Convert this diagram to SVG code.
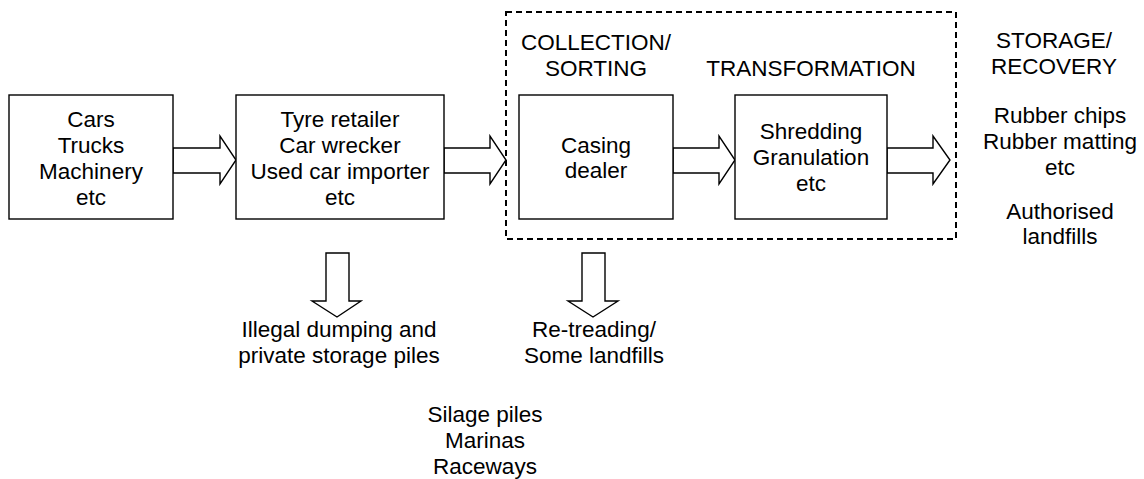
<svg xmlns="http://www.w3.org/2000/svg" width="1144" height="479" viewBox="0 0 1144 479">
<style>
.box{fill:#fff;stroke:#000;stroke-width:1.4}
.arr{fill:#fff;stroke:#000;stroke-width:1.4;stroke-linejoin:miter}
.dash{fill:none;stroke:#000;stroke-width:2;stroke-dasharray:6 4}
text{font-family:"Liberation Sans",Arial,sans-serif;font-size:22.5px;fill:#000;text-anchor:middle}
</style>
<rect width="1144" height="479" fill="#fff"/>
<g id="group-box">
<rect class="dash" x="506" y="12" width="450" height="227"/>
<text x="596" y="50">COLLECTION/</text>
<text x="596" y="76">SORTING</text>
<text x="811" y="76">TRANSFORMATION</text>
</g>
<g id="connectors">
<polygon class="arr" points="173,148 220,148 220,136 236,160 220,184 220,173 173,173"/>
<polygon class="arr" points="444,148 490,148 490,136 506,160 490,184 490,173 444,173"/>
<polygon class="arr" points="673,148 719,148 719,136 735,160 719,184 719,173 673,173"/>
<polygon class="arr" points="887,148 933,148 933,136 950,160 933,184 933,173 887,173"/>
<polygon class="arr" points="326,253 349,253 349,301 361,301 337,317 312,301 326,301"/>
<polygon class="arr" points="582,253 605,253 605,301 618,301 593,317 568,301 582,301"/>
</g>
<g id="sources">
<rect class="box" x="9" y="95" width="164" height="124"/>
<text x="91" y="127">Cars</text>
<text x="91" y="153">Trucks</text>
<text x="91" y="179">Machinery</text>
<text x="91" y="205">etc</text>
</g>
<g id="retailers">
<rect class="box" x="236" y="95" width="208" height="124"/>
<text x="340" y="127">Tyre retailer</text>
<text x="340" y="153">Car wrecker</text>
<text x="340" y="179">Used car importer</text>
<text x="340" y="205">etc</text>
</g>
<g id="casing-dealer">
<rect class="box" x="519" y="95" width="154" height="124"/>
<text x="596" y="153">Casing</text>
<text x="596" y="178">dealer</text>
</g>
<g id="shredding">
<rect class="box" x="735" y="95" width="152" height="124"/>
<text x="811" y="139">Shredding</text>
<text x="811" y="165">Granulation</text>
<text x="811" y="191">etc</text>
</g>
<g id="storage">
<text x="1054" y="48">STORAGE/</text>
<text x="1054" y="74">RECOVERY</text>
<text x="1060" y="123">Rubber chips</text>
<text x="1060" y="149">Rubber matting</text>
<text x="1060" y="175">etc</text>
<text x="1060" y="219">Authorised</text>
<text x="1060" y="244">landfills</text>
</g>
<g id="illegal">
<text x="339" y="337">Illegal dumping and</text>
<text x="339" y="363">private storage piles</text>
</g>
<g id="retreading">
<text x="594" y="337">Re-treading/</text>
<text x="594" y="363">Some landfills</text>
</g>
<g id="other">
<text x="485" y="422">Silage piles</text>
<text x="485" y="448">Marinas</text>
<text x="485" y="474">Raceways</text>
</g>
</svg>
